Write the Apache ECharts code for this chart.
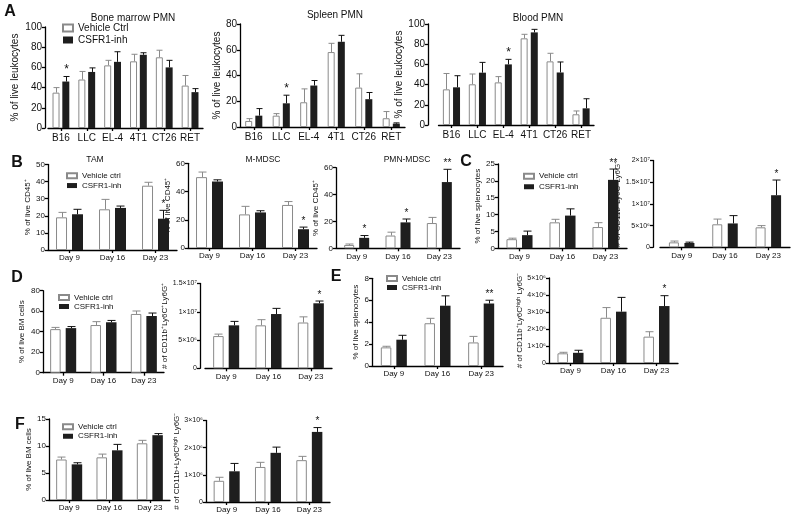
<!DOCTYPE html>
<html><head><meta charset="utf-8">
<script src="https://cdn.jsdelivr.net/npm/echarts@6/dist/echarts.min.js"></script>
<style>html,body{margin:0;padding:0;background:#fff}#c{width:800px;height:519px}</style>
</head><body><div id="c"></div>
<script>
// ---------- categories ----------
const tumorCats = ['B16', 'LLC', 'EL-4', '4T1', 'CT26', 'RET'];
const dayCats = ['Day 9', 'Day 16', 'Day 23'];

// ---------- Panel A ----------
const bmVeh = [35, 48, 62, 66, 70, 42];
const bmVehErr = [5, 8, 5, 7, 7, 10];
const bmInh = [46, 55.5, 65.5, 72.5, 60, 35.5];
const bmInhErr = [5, 4, 10, 2, 7, 3.5];
const bmStars = ['*', '', '', '', '', ''];

const spVeh = [4.7, 8.8, 19.2, 58.2, 30.6, 6.8];
const spVehErr = [1.8, 1.6, 10.4, 6.8, 10.7, 5.2];
const spInh = [8.8, 18.4, 32.2, 66.2, 21.6, 2.6];
const spInhErr = [5.5, 6.3, 3.9, 5, 5.2, 0.6];
const spStars = ['', '*', '', '', '', ''];

const blVeh = [35.3, 40.3, 42.2, 85.8, 63, 10.6];
const blVehErr = [15.7, 10.2, 5.7, 4, 8, 3.3];
const blInh = [37.3, 51.8, 60, 91.7, 52, 16.5];
const blInhErr = [11.5, 10.2, 5, 3, 10.4, 9.5];
const blStars = ['', '', '*', '', '', ''];

// ---------- Panel B ----------
const tamVeh = [19.1, 23.8, 37.6];
const tamVehErr = [2.9, 5.8, 2];
const tamInh = [20.9, 24.6, 18.3];
const tamInhErr = [2.9, 1.1, 4.9];
const tamStars = ['', '', '*'];

const mmVeh = [50.2, 23.8, 30.5];
const mmVehErr = [3.6, 5.7, 2.4];
const mmInh = [47.1, 25.2, 13.3];
const mmInhErr = [1.2, 1.2, 1.5];
const mmStars = ['', '', '*'];

const pmVeh = [2.5, 9.5, 18.8];
const pmVehErr = [0.7, 2.5, 4.2];
const pmInh = [7.8, 19.3, 49.3];
const pmInhErr = [1.7, 2.5, 9.5];
const pmStars = ['*', '*', '**'];

// ---------- Panel C ----------
const c1Veh = [2.7, 7.7, 6.3];
const c1VehErr = [0.3, 0.9, 1.3];
const c1Inh = [3.9, 9.7, 20.3];
const c1InhErr = [1.2, 2, 3.2];
const c1Stars = ['', '', '**'];

const c2Veh = [1.14e6, 5.3e6, 4.6e6];
const c2VehErr = [0.3e6, 1.2e6, 0.4e6];
const c2Inh = [0.99e6, 5.5e6, 12.0e6];
const c2InhErr = [0.2e6, 1.8e6, 3.5e6];
const c2Stars = ['', '', '*'];

// ---------- Panel D ----------
const d1Veh = [42.5, 46.5, 57.3];
const d1VehErr = [1.7, 3.3, 2.9];
const d1Inh = [43.5, 49.2, 55.3];
const d1InhErr = [1.5, 1.8, 2.9];
const d1Stars = ['', '', ''];

const d2Veh = [5.7e6, 7.6e6, 8.1e6];
const d2VehErr = [0.35e6, 1.0e6, 1.0e6];
const d2Inh = [7.6e6, 9.6e6, 11.5e6];
const d2InhErr = [0.7e6, 1.0e6, 0.4e6];
const d2Stars = ['', '', '*'];

// ---------- Panel E ----------
const e1Veh = [1.7, 3.9, 2.15];
const e1VehErr = [0.1, 0.45, 0.55];
const e1Inh = [2.4, 5.5, 5.7];
const e1InhErr = [0.4, 0.9, 0.3];
const e1Stars = ['', '', '**'];

const e2Veh = [0.57e6, 2.66e6, 1.55e6];
const e2VehErr = [0.06e6, 0.6e6, 0.29e6];
const e2Inh = [0.6e6, 3.02e6, 3.35e6];
const e2InhErr = [0.15e6, 0.84e6, 0.61e6];
const e2Stars = ['', '', '*'];

// ---------- Panel F ----------
const f1Veh = [7.5, 7.9, 10.5];
const f1VehErr = [0.45, 0.6, 0.55];
const f1Inh = [6.6, 9.2, 12.0];
const f1InhErr = [0.3, 1.1, 0.3];
const f1Stars = ['', '', ''];

const f2Veh = [0.78e6, 1.29e6, 1.54e6];
const f2VehErr = [0.13e6, 0.17e6, 0.14e6];
const f2Inh = [1.13e6, 1.81e6, 2.58e6];
const f2InhErr = [0.29e6, 0.21e6, 0.16e6];
const f2Stars = ['', '', '*'];

// ---------- helpers ----------
const FONT = '"Liberation Sans", Arial, sans-serif';
const SUP = {'0':'⁰','1':'¹','2':'²','3':'³','4':'⁴','5':'⁵','6':'⁶','7':'⁷','8':'⁸','9':'⁹','-':'⁻'};
function sci(v) {
  if (v === 0) return '0';
  const e = Math.floor(Math.log10(v) + 1e-9);
  const m = +(v / Math.pow(10, e)).toFixed(2);
  return m + '×10' + String(e).split('').map(c => SUP[c]).join('');
}

const VEH_A = 'Vehicle Ctrl', VEH = 'Vehicle ctrl', INH = 'CSFR1-inh';

const panels = [
  {cats: tumorCats, veh: bmVeh, vehErr: bmVehErr, inh: bmInh, inhErr: bmInhErr, stars: bmStars, vehName: VEH_A,
   left: 48, top: 27, width: 155, height: 101, off: 3, max: 100, interval: 20, fs: 10, bw: 7, bg: 40, cap: 3,
   yName: '% of live leukocytes', nameGap: 25, lblMargin: 5},
  {cats: tumorCats, veh: spVeh, vehErr: spVehErr, inh: spInh, inhErr: spInhErr, stars: spStars, vehName: VEH_A,
   left: 240, top: 24, width: 165, height: 103, off: 0, max: 80, interval: 20, fs: 10, bw: 7, bg: 45, cap: 3,
   yName: '% of live leukocytes', nameGap: 16, lblMargin: 5},
  {cats: tumorCats, veh: blVeh, vehErr: blVehErr, inh: blInh, inhErr: blInhErr, stars: blStars, vehName: VEH_A,
   left: 438.5, top: 24, width: 155.5, height: 101, off: 10.5, max: 100, interval: 20, fs: 10, bw: 7, bg: 45, cap: 3,
   yName: '% of live leukocytes', nameGap: 22, lblMargin: 5},

  {cats: dayCats, veh: tamVeh, vehErr: tamVehErr, inh: tamInh, inhErr: tamInhErr, stars: tamStars, vehName: VEH,
   left: 48, top: 164.5, width: 129, height: 85.5, off: 0, max: 50, interval: 10, fs: 8, bw: 11, bg: 45, cap: 4,
   yName: '% of live CD45⁺', nameGap: 14, lblMargin: 4},
  {cats: dayCats, veh: mmVeh, vehErr: mmVehErr, inh: mmInh, inhErr: mmInhErr, stars: mmStars, vehName: VEH,
   left: 188, top: 163.3, width: 129, height: 84.7, off: 0, max: 60, interval: 20, fs: 8, bw: 11, bg: 45, cap: 4,
   yName: '% of live CD45⁺', nameGap: 13, lblMargin: 4},
  {cats: dayCats, veh: pmVeh, vehErr: pmVehErr, inh: pmInh, inhErr: pmInhErr, stars: pmStars, vehName: VEH,
   left: 336, top: 167.7, width: 124, height: 80.6, off: 0, max: 60, interval: 20, fs: 8, bw: 10, bg: 50, cap: 4,
   yName: '% of live CD45⁺', nameGap: 12, lblMargin: 4},

  {cats: dayCats, veh: c1Veh, vehErr: c1VehErr, inh: c1Inh, inhErr: c1InhErr, stars: c1Stars, vehName: VEH,
   left: 498, top: 164, width: 129, height: 84.3, off: 0, max: 25, interval: 5, fs: 8, bw: 10.5, bg: 48, cap: 4,
   yName: '% of live splenocytes', nameGap: 15, lblMargin: 4},
  {cats: dayCats, veh: c2Veh, vehErr: c2VehErr, inh: c2Inh, inhErr: c2InhErr, stars: c2Stars, vehName: VEH,
   left: 660, top: 160.5, width: 130, height: 86.8, off: 7, max: 2e7, interval: 5e6, fs: 8, bw: 10, bg: 55, cap: 4, sci: true,
   yName: '# of CD11b⁺Ly6C⁺Ly6G⁺', nameGap: 20, lblMargin: 4},

  {cats: dayCats, veh: d1Veh, vehErr: d1VehErr, inh: d1Inh, inhErr: d1InhErr, stars: d1Stars, vehName: VEH,
   left: 43, top: 290.7, width: 121, height: 82, off: 0, max: 80, interval: 20, fs: 8, bw: 10.5, bg: 48, cap: 4,
   yName: '% of live BM cells', nameGap: 17, lblMargin: 4},
  {cats: dayCats, veh: d2Veh, vehErr: d2VehErr, inh: d2Inh, inhErr: d2InhErr, stars: d2Stars, vehName: VEH,
   left: 205, top: 283.5, width: 127, height: 84.8, off: 5, max: 1.5e7, interval: 5e6, fs: 8, bw: 10.5, bg: 48, cap: 4, sci: true,
   yName: '# of CD11b⁺Ly6C⁺Ly6G⁺', nameGap: 22, lblMargin: 4},

  {cats: dayCats, veh: e1Veh, vehErr: e1VehErr, inh: e1Inh, inhErr: e1InhErr, stars: e1Stars, vehName: VEH,
   left: 372, top: 278.3, width: 131, height: 87.7, off: 0, max: 8, interval: 2, fs: 8, bw: 10.5, bg: 48, cap: 4,
   yName: '% of live splenocytes', nameGap: 12, lblMargin: 4},
  {cats: dayCats, veh: e2Veh, vehErr: e2VehErr, inh: e2Inh, inhErr: e2InhErr, stars: e2Stars, vehName: VEH,
   left: 549, top: 278, width: 129, height: 85, off: 0, max: 5e6, interval: 1e6, fs: 8, bw: 10.5, bg: 48, cap: 4, sci: true,
   yName: '# of CD11b⁺Ly6Cʰⁱᵍʰ Ly6G⁻', nameGap: 23, lblMargin: 4},

  {cats: dayCats, veh: f1Veh, vehErr: f1VehErr, inh: f1Inh, inhErr: f1InhErr, stars: f1Stars, vehName: VEH,
   left: 49, top: 419, width: 121, height: 81, off: 0, max: 15, interval: 5, fs: 8, bw: 10.5, bg: 48, cap: 4,
   yName: '% of live BM cells', nameGap: 16, lblMargin: 4},
  {cats: dayCats, veh: f2Veh, vehErr: f2VehErr, inh: f2Inh, inhErr: f2InhErr, stars: f2Stars, vehName: VEH,
   left: 206, top: 420.5, width: 124, height: 81.5, off: 0, max: 3e6, interval: 1e6, fs: 8, bw: 10.5, bg: 48, cap: 4, sci: true,
   yName: '# of CD11b+Ly6Cʰⁱᵍʰ Ly6G⁻', nameGap: 22, lblMargin: 4}
];

const VEH_STROKE = '#8a8a8a', INH_FILL = '#1e1e1e';

function errRenderer(p, side, color, stars) {
  return function (params, api) {
    const k = api.value(0), m = api.value(1), e = api.value(2);
    const c0 = api.coord([k, m]), c1 = api.coord([k, m + e]);
    const off = side * p.bw * (1 + p.bg / 100) / 2;
    const x = Math.round(c0[0] + off) + 0.5;
    const cw = p.cap;
    const ch = [
      {type: 'line', shape: {x1: x, y1: c0[1], x2: x, y2: c1[1]}, style: {stroke: color, lineWidth: 1}},
      {type: 'line', shape: {x1: x - cw, y1: c1[1], x2: x + cw, y2: c1[1]}, style: {stroke: color, lineWidth: 1}}
    ];
    const s = stars && stars[params.dataIndex];
    if (s) ch.push({type: 'text', x: x, y: c1[1] - 1,
      style: {text: s, fill: '#111', fontSize: p.fs + 2, align: 'center', verticalAlign: 'bottom', fontFamily: FONT}});
    return {type: 'group', children: ch};
  };
}

const option = {animation: false, backgroundColor: '#fff', grid: [], xAxis: [], yAxis: [], series: [], legend: [], graphic: []};

panels.forEach((p, i) => {
  option.grid.push({left: p.left, top: p.top, width: p.width, height: p.height, containLabel: false, outerBoundsMode: 'none'});
  option.xAxis.push({
    type: 'category', gridIndex: i, data: p.cats,
    axisLine: {show: true, lineStyle: {color: '#000', width: 1.3}},
    axisTick: {show: true, alignWithLabel: true, length: 3, lineStyle: {color: '#000', width: 1.3}},
    axisLabel: {color: '#111', fontSize: p.fs, margin: p.lblMargin, fontFamily: FONT, interval: 0},
    splitLine: {show: false}
  });
  option.yAxis.push({
    type: 'value', gridIndex: i, min: 0, max: p.max, interval: p.interval, offset: p.off,
    name: p.yName, nameLocation: 'middle', nameGap: p.nameGap,
    nameTextStyle: {fontSize: p.fs, color: '#111', fontFamily: FONT},
    axisLine: {show: true, lineStyle: {color: '#000', width: 1.3}},
    axisTick: {show: true, length: 3, lineStyle: {color: '#000', width: 1.3}},
    axisLabel: {fontSize: p.sci ? 7 : p.fs, color: '#111', margin: 3, fontFamily: FONT, formatter: p.sci ? sci : null},
    splitLine: {show: false}
  });
  option.series.push({
    type: 'bar', name: p.vehName, xAxisIndex: i, yAxisIndex: i, data: p.veh,
    barWidth: p.bw, barGap: p.bg + '%', silent: true,
    itemStyle: {color: '#fff', borderColor: VEH_STROKE, borderWidth: 1}
  });
  option.series.push({
    type: 'bar', name: INH, xAxisIndex: i, yAxisIndex: i, data: p.inh,
    barWidth: p.bw, barGap: p.bg + '%', silent: true,
    itemStyle: {color: INH_FILL, borderColor: INH_FILL, borderWidth: 0}
  });
  option.series.push({
    type: 'custom', xAxisIndex: i, yAxisIndex: i, silent: true, z: 5,
    data: p.veh.map((v, k) => [k, v, p.vehErr[k]]), encode: {x: 0, y: 1},
    renderItem: errRenderer(p, -1, VEH_STROKE, null)
  });
  option.series.push({
    type: 'custom', xAxisIndex: i, yAxisIndex: i, silent: true, z: 5,
    data: p.inh.map((v, k) => [k, v, p.inhErr[k]]), encode: {x: 0, y: 1},
    renderItem: errRenderer(p, 1, '#111', p.stars)
  });
});

function mkLegend(name, left, top, fs, iw, ih, lh) {
  return {data: [name, INH], orient: 'vertical', left: left, top: top, icon: 'rect',
    itemWidth: iw, itemHeight: ih, itemGap: 0, selectedMode: false, padding: 0,
    textStyle: {fontSize: fs, color: '#111', fontFamily: FONT, lineHeight: lh}};
}
option.legend.push(mkLegend(VEH_A, 62, 22, 10, 10, 7, 12));
option.legend.push(mkLegend(VEH, 66, 171, 8, 10, 5, 9.7));
option.legend.push(mkLegend(VEH, 523, 171, 8, 10, 5, 10.5));
option.legend.push(mkLegend(VEH, 58, 293, 8, 10, 5, 9));
option.legend.push(mkLegend(VEH, 386, 274, 8, 10, 5, 9));
option.legend.push(mkLegend(VEH, 62, 422, 8, 10, 5, 9.5));

function txt(s, x, y, fs, bold) {
  return {type: 'text', x: x, y: y, silent: true,
    style: {text: s, fontSize: fs, fontWeight: bold ? 'bold' : 'normal', fill: '#111', fontFamily: FONT, align: 'center', verticalAlign: 'middle'}};
}
option.graphic = [
  txt('A', 10, 12, 16, true), txt('B', 17, 163, 16, true), txt('C', 466, 162, 16, true),
  txt('D', 17, 278, 16, true), txt('E', 336, 277, 16, true), txt('F', 20, 425, 16, true),
  txt('Bone marrow PMN', 133, 18, 10), txt('Spleen PMN', 335, 15, 10), txt('Blood PMN', 538, 18, 10),
  txt('TAM', 95, 160, 8.5), txt('M-MDSC', 263, 160, 8.5), txt('PMN-MDSC', 407, 160, 8.5)
];

const chart = echarts.init(document.getElementById('c'), null, {renderer: 'canvas'});
chart.setOption(option);
</script>
</body></html>
